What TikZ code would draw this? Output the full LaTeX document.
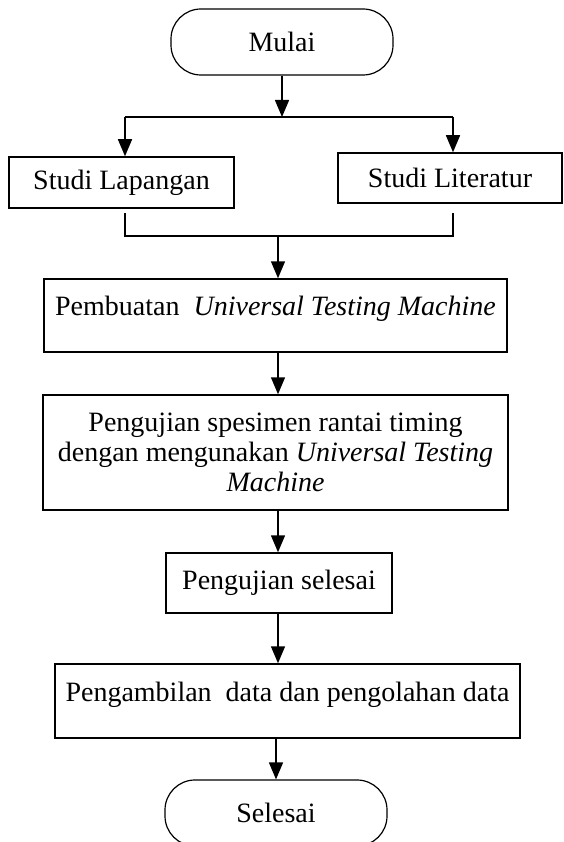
\documentclass[tikz,border=0pt]{standalone}
\usepackage{fontspec}
\setmainfont{Liberation Serif}
\usetikzlibrary{arrows.meta}
\begin{document}
\begin{tikzpicture}[x=1pt, y=1pt, line width=1.5pt,
    every node/.style={font=\fontsize{28}{30}\selectfont, inner sep=0pt},
    proses/.style={draw, rectangle, align=center},
    terminal/.style={draw, rectangle, rounded corners=30pt, line width=1.2pt},
    tengah/.style={text height=20pt, text depth=20pt},
    panah/.style={-{Triangle[length=17pt,width=14pt]}}]
    \useasboundingbox (0,0) rectangle (564,-842);
    \node [terminal, minimum width=222pt, minimum height=66pt] (mulai) at (282,-42) {Mulai};
    \node [proses, minimum width=225pt, minimum height=51pt] (lapangan) at (121.5,-182.5) {Studi Lapangan};
    \node [proses, minimum width=224pt, minimum height=50pt] (literatur) at (450,-178) {Studi Literatur};
    \node [proses, tengah, minimum width=463pt, minimum height=73pt] (pembuatan) at (275.5,-315.5) {Pembuatan\ \ \textit{Universal Testing Machine}};
    \node [proses, minimum width=465pt, minimum height=115pt] (pengujian) at (275.5,-452.5) {Pengujian spesimen rantai timing\\dengan mengunakan \textit{Universal Testing}\\\textit{Machine}};
    \node [proses, minimum width=226pt, minimum height=60pt] (ujiselesai) at (279,-583) {Pengujian selesai};
    \node [proses, tengah, minimum width=465pt, minimum height=74pt] (pengambilan) at (287.5,-701) {Pengambilan\ \ data dan pengolahan data};
    \node [terminal, minimum width=222pt, minimum height=66pt] (selesai) at (276,-813) {Selesai};
    % percabangan
    \coordinate (pisahL) at (125,-117);
    \coordinate (pisahR) at (453,-117);
    \draw [panah] (mulai.south) -- (mulai.south |- pisahL);
    \draw (pisahL) -- (pisahR);
    \draw [panah] (pisahL) -- (pisahL |- lapangan.north);
    \draw [panah] (pisahR) -- (pisahR |- literatur.north);
    % penggabungan
    \coordinate (gabungL) at (125,-236);
    \coordinate (gabungR) at (453,-236);
    \draw (gabungL) ++(0,23) -- (gabungL) -- (gabungR) -- ++(0,23);
    \draw [panah] (278,-236) -- (278,-236 |- pembuatan.north);
    \draw [panah] (278,-236 |- pembuatan.south) -- (278,-236 |- pengujian.north);
    \draw [panah] (278,-236 |- pengujian.south) -- (278,-236 |- ujiselesai.north);
    \draw [panah] (278,-236 |- ujiselesai.south) -- (278,-236 |- pengambilan.north);
    \draw [panah] (selesai.north |- pengambilan.south) -- (selesai.north);
\end{tikzpicture}
\end{document}
